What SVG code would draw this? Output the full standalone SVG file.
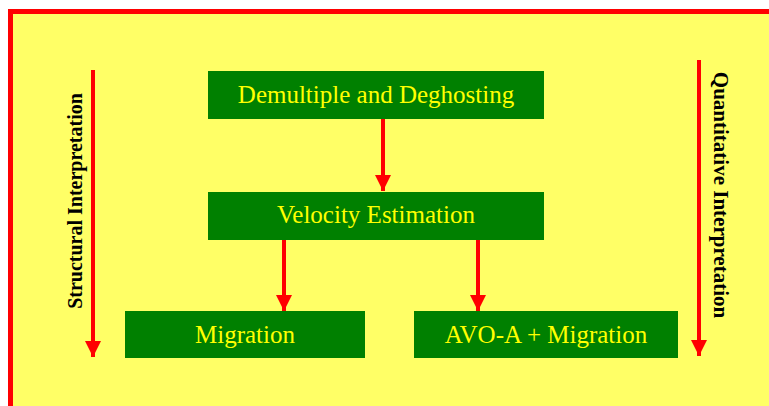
<svg xmlns="http://www.w3.org/2000/svg" width="769" height="406" viewBox="0 0 769 406">
<defs>
<style>
.box{fill:#008000}
.bt{font-family:"Liberation Serif",serif;font-size:25px;fill:#FFFF00;text-anchor:middle}
.side{font-family:"Liberation Serif",serif;font-weight:bold;fill:#000;text-anchor:middle}
.conn{stroke:#FF0000;stroke-width:4;fill:none;marker-end:url(#ah)}
</style>
<marker id="ah" markerUnits="userSpaceOnUse" markerWidth="16" markerHeight="16" refX="16" refY="8" orient="auto" viewBox="0 0 16 16">
<path d="M0,0 L16,8 L0,16 Z" fill="#FF0000"/>
</marker>
</defs>
<rect x="0" y="0" width="769" height="406" fill="#FFFFFF"/>
<rect x="10.5" y="11.5" width="780" height="420" fill="#FFFF66" stroke="#FF0000" stroke-width="5"/>
<g id="connectors">
<line class="conn" x1="383" y1="119" x2="383" y2="191"/>
<line class="conn" x1="284" y1="240" x2="284" y2="311"/>
<line class="conn" x1="478" y1="240" x2="478" y2="311"/>
<line class="conn" x1="93" y1="70" x2="93" y2="357"/>
<line class="conn" x1="699" y1="60" x2="699" y2="356"/>
</g>
<g id="n1"><rect class="box" x="208" y="71" width="336" height="48"/><text class="bt" x="376" y="103">Demultiple and Deghosting</text></g>
<g id="n2"><rect class="box" x="208" y="192" width="336" height="48"/><text class="bt" x="376" y="223">Velocity Estimation</text></g>
<g id="n3"><rect class="box" x="125" y="311" width="240" height="47"/><text class="bt" x="245" y="343">Migration</text></g>
<g id="n4"><rect class="box" x="414" y="311" width="264" height="47"/><text class="bt" x="546" y="343">AVO-A + Migration</text></g>
<g id="l1"><text class="side" font-size="20" transform="translate(82,201) rotate(-90)">Structural Interpretation</text></g>
<g id="l2"><text class="side" font-size="21" transform="translate(714,195) rotate(90)">Quantitative Interpretation</text></g>
</svg>
